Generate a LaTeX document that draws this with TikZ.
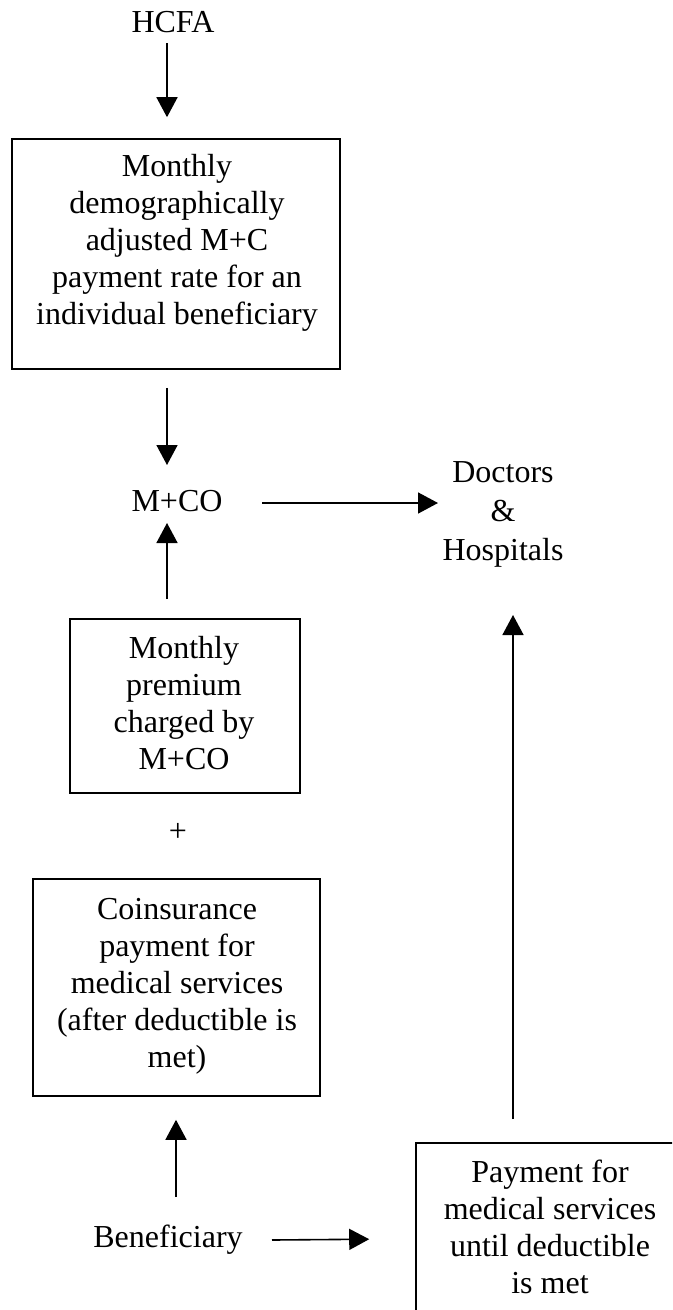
\documentclass[tikz,border=0pt]{standalone}
\usepackage{fontspec}
\setmainfont{Liberation Serif}
\usetikzlibrary{arrows.meta,calc}
\newcommand\topst{\rule{0pt}{0.7em}}
\newcommand\botst{\rule[-0.7em]{0pt}{0.7em}}
\begin{document}
\begin{tikzpicture}[x=0.75pt,y=-0.75pt,
  txt/.style={inner sep=0pt, align=center, font=\fontsize{24}{27.75}\selectfont},
  boxnode/.style={draw, line width=1.2pt, inner sep=0pt},
  arr/.style={line width=1.2pt, -{Triangle[length=15pt,width=15.75pt]}}]
\useasboundingbox (0,0) rectangle (672,1310);
\clip (0,0) rectangle (672,1310);
% columns for vertical connectors
\coordinate (colL) at (167,0);
\coordinate (colB) at (176,0);
\coordinate (colR) at (513,0);
% boxes
\node[boxnode, minimum width=246pt, minimum height=172.5pt] (b1) at (176,254) {};
\node[boxnode, minimum width=172.5pt, minimum height=130.5pt] (b2) at (185,706) {};
\node[boxnode, minimum width=215.25pt, minimum height=162.75pt] (b3) at (176.5,987.5) {};
\node[boxnode, minimum width=201pt, minimum height=136.5pt] (b4) at (550,1234) {};
% texts
\node[txt] (hcfa) at (173,32) {\topst HCFA\botst};
\node[txt] (t1) at (177,250.5) {\topst Monthly\\demographically\\adjusted M+C\\payment rate for an\\individual beneficiary\botst};
\node[txt] (mco) at (177,511) {\topst M+CO\botst};
\node[txt, font=\fontsize{24}{29.25}\selectfont] (doc) at (503,521) {\topst Doctors\\\&\\Hospitals\botst};
\node[txt] (t2) at (184,713.5) {\topst Monthly\\premium\\charged by\\M+CO\botst};
\node[txt] (plus) at (178,841) {\topst +\botst};
\node[txt] (t3) at (177,993) {\topst Coinsurance\\payment for\\medical services\\(after deductible is\\met)\botst};
\node[txt] (ben) at (168,1247) {\topst Beneficiary\botst};
\node[txt] (t4) at (550,1238) {\topst Payment for\\medical services\\until deductible\\is met\botst};
% connectors
\draw[arr] ($(hcfa.center -| colL)+(0,11)$) -- ($(b1.north -| colL)+(0,-21)$);
\draw[arr] ($(b1.south -| colL)+(0,18)$) -- ($(mco.center -| colL)+(0,-46)$);
\draw[arr] ($(b2.north -| colL)+(0,-19)$) -- ($(mco.center -| colL)+(0,12)$);
\draw[arr] ($(mco.center)+(85,-8)$) -- ($(doc.center)+(-65,-18)$);
\draw[arr] ($(b4.north -| colR)+(0,-23)$) -- ($(doc.center -| colR)+(0,94)$);
\draw[arr] ($(ben.center -| colB)+(0,-50)$) -- ($(b3.south -| colB)+(0,23)$);
\draw[arr] ($(ben.center)+(104,-7)$) -- ($(b4.north west)+(-46,97)$);
\end{tikzpicture}
\end{document}
